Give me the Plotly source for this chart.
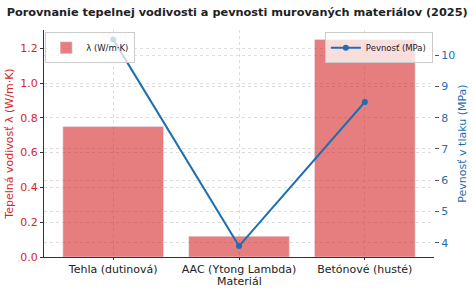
import plotly.graph_objects as go

categories = ["Tehla (dutinová)", "AAC (Ytong Lambda)", "Betónové (husté)"]
lambda_vals = [0.75, 0.12, 1.25]
strength_vals = [10.5, 3.9, 8.5]

RED = "#d62728"
BAR = "rgba(214,39,40,0.6)"
BLUE = "#1f6fb0"
FONT = "DejaVu Sans"

fig = go.Figure()
fig.add_trace(go.Bar(x=categories, y=lambda_vals, name="λ (W/m·K)", marker_color=BAR,
                     width=0.8, legend="legend", showlegend=True))
fig.add_trace(go.Scatter(x=categories, y=strength_vals, name="Pevnosť (MPa)", yaxis="y2",
                         mode="lines+markers", line=dict(color=BLUE, width=2),
                         marker=dict(size=6, color=BLUE), legend="legend2", showlegend=True))

fig.update_layout(
    width=474, height=288,
    margin=dict(l=44, r=40, t=30, b=31, autoexpand=False),
    showlegend=True,
    paper_bgcolor="white", plot_bgcolor="white",
    font=dict(family=FONT, size=11, color="#222"),
    title=dict(text="<b>Porovnanie tepelnej vodivosti a pevnosti murovaných materiálov (2025)</b>",
               x=0.014, xanchor="left", y=0.958, yanchor="middle", font=dict(size=11.3, color="#222")),
    xaxis=dict(range=[-0.55, 2.55], showline=True, linecolor="#333", linewidth=1,
               ticks="outside", ticklen=2, tickcolor="#333", automargin=False,
               showgrid=True, gridcolor="#ddd", griddash="dot"),
    yaxis=dict(range=[0, 1.305], dtick=0.2, tickformat=".1f", showline=True, linecolor="#333",
               linewidth=1, ticks="outside", ticklen=3, tickcolor="#333", automargin=False,
               tickfont=dict(color=RED), showgrid=True, gridcolor="#ddd", griddash="dot",
               zeroline=False,
               title=dict(text="Tepelná vodivosť λ (W/m·K)", font=dict(color=RED, size=11), standoff=4)),
    yaxis2=dict(range=[3.55, 10.8], dtick=1, overlaying="y", side="right", automargin=False,
                ticks="outside", ticklen=4, tickcolor="#555", tickfont=dict(color=BLUE),
                showgrid=True, gridcolor="#ddd", griddash="dot", zeroline=False,
                title=dict(text="Pevnosť v tlaku (MPa)", font=dict(color=BLUE, size=11), standoff=4)),
    legend=dict(x=0.003, y=0.99, xanchor="left", yanchor="top", bgcolor="rgba(255,255,255,0.75)",
                bordercolor="#ccc", borderwidth=1, font=dict(size=8.5), tracegroupgap=0,
                itemwidth=30),
    legend2=dict(x=0.997, y=0.99, xanchor="right", yanchor="top", bgcolor="rgba(255,255,255,0.75)",
                 bordercolor="#ccc", borderwidth=1, font=dict(size=8.5), tracegroupgap=0,
                 itemwidth=30),
    annotations=[dict(text="Materiál", xref="paper", yref="paper", x=0.5, y=-0.106,
                      xanchor="center", yanchor="middle", showarrow=False,
                      font=dict(size=11, color="#222"))],
    bargap=0.2,
)

fig.write_html("out.html")
